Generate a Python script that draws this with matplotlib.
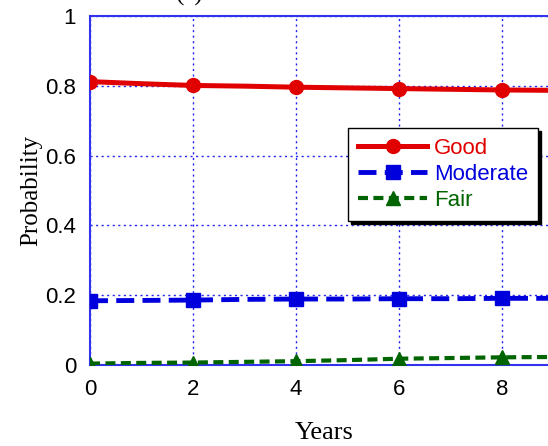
import matplotlib
matplotlib.use("Agg")
import matplotlib.pyplot as plt

# yearly values
years = [0, 1, 2, 3, 4, 5, 6, 7, 8, 9, 10]
good = [0.812, 0.806, 0.801, 0.799, 0.796, 0.794, 0.792, 0.790, 0.788, 0.787, 0.786]
moderate = [0.184, 0.185, 0.186, 0.188, 0.189, 0.189, 0.190, 0.190, 0.191, 0.191, 0.192]
fair = [0.004, 0.006, 0.007, 0.009, 0.011, 0.014, 0.018, 0.020, 0.022, 0.023, 0.024]

xticks = [0, 2, 4, 6, 8]
yticks = [0, 0.2, 0.4, 0.6, 0.8, 1]
ytick_labels = ["0", "0.2", "0.4", "0.6", "0.8", "1"]

fig = plt.figure(figsize=(5.48, 4.46), dpi=100)
W, H = 548, 446
# axes run a little past the right edge (the original picture is cropped)
ax = fig.add_axes([90 / W, (H - 365) / H, 469 / W, 349 / H])

ax.plot(years, good, color="#e00000", lw=3.6, marker="o", ms=10,
        markevery=2, label="Good", zorder=4)
ax.plot(years, moderate, color="#0000dd", lw=3.5, ls=(0, (3.7, 1.7)),
        marker="s", ms=10, markevery=2, label="Moderate", zorder=4)
ax.plot(years, fair, color="#006400", lw=3, ls=(0, (2.4, 1.3)),
        marker="^", ms=10, markevery=2, label="Fair", zorder=4)

ax.set_xlim(0, 9.1)
ax.set_ylim(0, 1)
ax.set_xticks(xticks)
ax.set_yticks(yticks)
ax.set_yticklabels(ytick_labels)
ax.grid(True, color="#2222ee", ls=(0, (1.5, 2.5)), lw=1)
for s in ax.spines.values():
    s.set_color("#3333ee")
    s.set_linewidth(1.5)
ax.tick_params(length=0, pad=10, labelsize=16, labelfontfamily="Liberation Sans")

ax.set_xlabel("Years", fontsize=19, family="Liberation Serif", labelpad=16)
ax.set_ylabel("Probability", fontsize=18, family="Liberation Serif", labelpad=2)

leg = ax.legend(loc="upper left", bbox_to_anchor=(247 / 469, 1 - 101 / 349),
                frameon=True, fancybox=False, shadow={"color": "black", "alpha": 1},
                handlelength=3.1, handletextpad=0.3, labelspacing=0.22,
                borderpad=0.45, prop={"family": "Liberation Sans", "size": 16})
leg.get_frame().set_edgecolor("black")
leg.get_frame().set_linewidth(1)
for t, c in zip(leg.get_texts(), ["#e00000", "#0000dd", "#006400"]):
    t.set_color(c)

fig.text(190 / W, 1 + 6 / H, "(a)", fontsize=18, family="Liberation Serif",
         ha="center", va="center")

fig.savefig("out.png", dpi=100)
